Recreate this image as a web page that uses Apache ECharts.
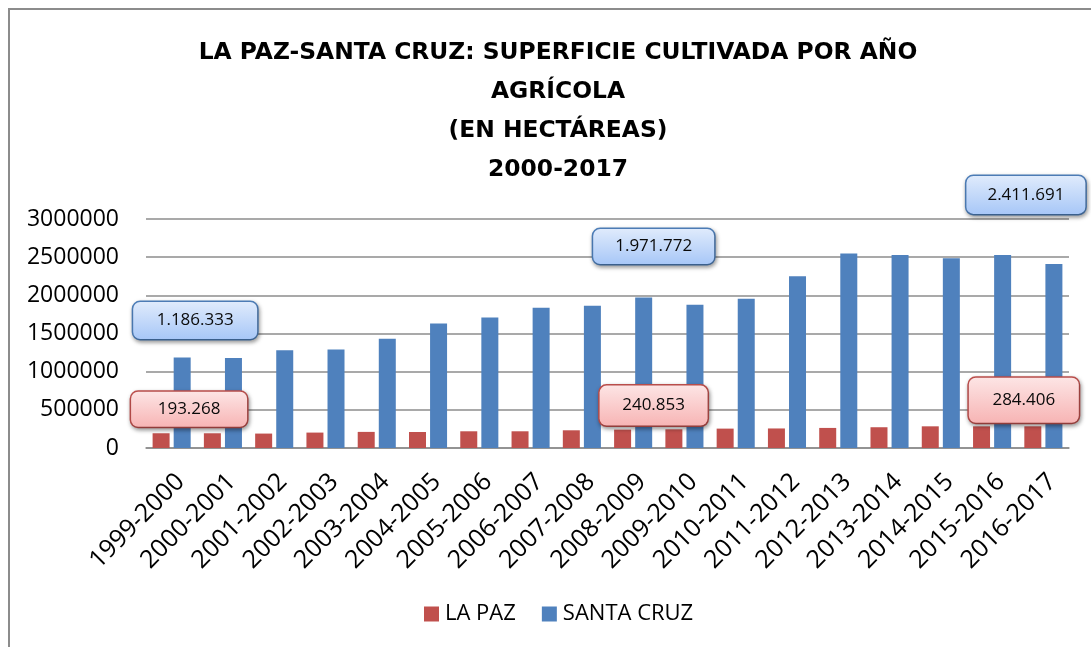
<!DOCTYPE html>
<html>
<head>
<meta charset="utf-8">
<script src="https://cdn.jsdelivr.net/npm/echarts@6/dist/echarts.min.js"></script>
<style>html,body{margin:0;padding:0;background:#fff}#c{width:1091px;height:647px}</style>
</head>
<body>
<div id="c"></div>
<script>
const titleText = 'LA PAZ-SANTA CRUZ: SUPERFICIE CULTIVADA POR AÑO\nAGRÍCOLA\n(EN HECTÁREAS)\n2000-2017';
const categories = ['1999-2000','2000-2001','2001-2002','2002-2003','2003-2004','2004-2005','2005-2006','2006-2007','2007-2008','2008-2009','2009-2010','2010-2011','2011-2012','2012-2013','2013-2014','2014-2015','2015-2016','2016-2017'];
const seriesNames = ['LA PAZ','SANTA CRUZ'];
const laPaz = [193268,193000,189000,202000,211000,210000,219000,219000,232000,240853,245000,254000,256000,263000,272000,284000,284000,284406];
const santaCruz = [1186333,1177600,1282000,1291000,1431000,1631000,1709600,1836000,1862500,1971772,1875600,1954000,2250000,2547000,2529000,2486000,2529000,2411691];
const yTicks = [0,500000,1000000,1500000,2000000,2500000,3000000];
const calloutIdx = [0, 9, 17];

// callout box styles (positions/sizes kept separate from data)
const redBoxes = {0:{w:116,h:35,off:[28,-24]}, 9:{w:108,h:40,off:[31,-24]}, 17:{w:110,h:45,off:[-9,-26]}};
const blueBoxes = {0:{w:124,h:37,off:[13,-37]}, 9:{w:121,h:35,off:[10,-51]}, 17:{w:119,h:38,off:[-28,-69]}};

function fmtDots(v){ return String(Math.round(v)).replace(/\B(?=(\d{3})+(?!\d))/g,'.'); }

function grad(c1,c2){ return new echarts.graphic.LinearGradient(0,0,0,1,[{offset:0,color:c1},{offset:1,color:c2}]); }

function buildData(values, boxes, c1, c2, border){
  return values.map((v,i)=>{
    if (!calloutIdx.includes(i)) return v;
    const b = boxes[i];
    return {value:v, label:{
      show:true, position:'top', distance:0, offset:b.off,
      formatter: p => fmtDots(p.value),
      width:b.w, height:b.h-9, lineHeight:b.h-9, padding:[9,0,0,0], align:'center', verticalAlign:'middle',
      fontFamily:'Open Sans', fontSize:17, color:'#0a0a0a',
      backgroundColor: grad(c1,c2), borderColor:border, borderWidth:1.5, borderRadius:7,
      shadowBlur:4, shadowColor:'rgba(0,0,0,0.35)', shadowOffsetX:1, shadowOffsetY:2
    }};
  });
}

const chart = echarts.init(document.getElementById('c'), null, {renderer:'canvas'});
chart.setOption({
  animation:false,
  backgroundColor:'#fff',
  graphic:[{type:'rect', shape:{x:9,y:9,width:1200,height:800}, style:{fill:'none', stroke:'#8c8c8c', lineWidth:2}, silent:true, z:-1}],
  title:{
    text:titleText, left:553, top:29, textAlign:'center',
    textStyle:{fontFamily:'DejaVu Sans', fontWeight:'bold', fontSize:23.4, lineHeight:38.7, color:'#000'}
  },
  legend:{
    data:seriesNames, left:419, top:598, icon:'rect', itemWidth:15, itemHeight:15, itemGap:26,
    textStyle:{fontFamily:'Open Sans', fontSize:22, color:'#000', padding:[0,0,0,1]}
  },
  grid:{left:146, right:22, top:219, bottom:199, containLabel:false},
  xAxis:{
    type:'category', data:categories,
    axisLine:{show:true, lineStyle:{color:'#8c8c8c', width:1.5}},
    axisTick:{show:false},
    axisLabel:{rotate:45, margin:21, interval:0, verticalAlign:'top', fontFamily:'Open Sans', fontSize:25, color:'#000'}
  },
  yAxis:{
    type:'value', min:0, max:3000000, interval:500000,
    axisLine:{show:false}, axisTick:{show:false},
    splitLine:{lineStyle:{color:'#8c8c8c', width:1.5}},
    axisLabel:{margin:27, fontFamily:'Open Sans', fontSize:23, color:'#000', formatter:v=>String(v)}
  },
  series:[
    {name:seriesNames[0], type:'bar', barWidth:17, barGap:'24%', itemStyle:{color:'#c0504d'},
     data:buildData(laPaz, redBoxes, '#fde6e6', '#f7b3b3', '#c0504d'), z:3},
    {name:seriesNames[1], type:'bar', barWidth:17, barGap:'24%', itemStyle:{color:'#4f81bd'},
     data:buildData(santaCruz, blueBoxes, '#e1ecfc', '#a6c6f7', '#4f81bd'), z:2}
  ]
});
</script>
</body>
</html>
